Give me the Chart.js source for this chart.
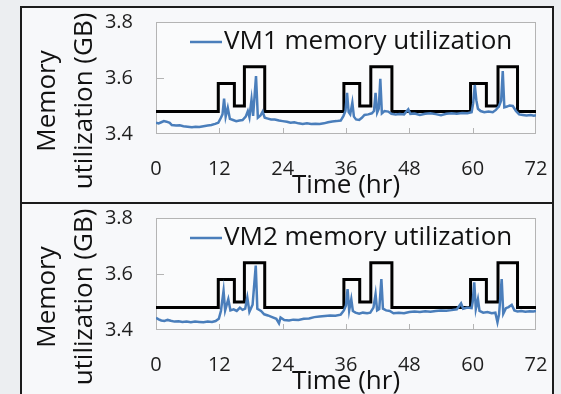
<!DOCTYPE html>
<html>
<head>
<meta charset="utf-8">
<script src="https://cdn.jsdelivr.net/npm/chart.js@4.4.0/dist/chart.umd.min.js"></script>
<style>
    html, body {
        margin: 0;
        padding: 0;
        width: 561px;
        height: 394px;
        overflow: hidden;
        background: #eceef1;
    }
    .frame {
        position: absolute;
        left: 20px;
        width: 534px;
        box-sizing: border-box;
        border: 2px solid #1b1b1b;
        background: #f7f8fa;
    }
    #frame1 { top: 6px; height: 198px; }
    #frame2 { top: 202px; height: 220px; }
    canvas {
        position: absolute;
        left: 21px;
    }
    #vm1Chart { top: 7px; }
    #vm2Chart { top: 203px; }
</style>
</head>
<body>
<div class="frame" id="frame1"></div>
<div class="frame" id="frame2"></div>
<canvas id="vm1Chart" width="532" height="196"></canvas>
<canvas id="vm2Chart" width="532" height="196"></canvas>
<script>
// memory allocation schedule (GB), each value holds until the next time
const stepTime = [0, 11.8, 14.85, 16.75, 20.6, 35.6, 38.6, 40.7, 44.7, 59.6, 62.6, 64.8, 68.5, 72];
const allocation = [3.48, 3.58, 3.5, 3.64, 3.48, 3.58, 3.5, 3.64, 3.48, 3.58, 3.5, 3.64, 3.48, 3.48];

// VM1 measured memory (hr, GB)
const vm1Time = [
    0, 0.5, 1.0, 1.5, 2.0, 2.6, 3.0, 3.8, 4.5, 5.2, 6.0, 6.8, 7.5, 8.2, 9.0, 9.8, 10.5, 11.2, 11.8,
    12.3, 12.6, 12.9, 13.2, 13.6, 14.0, 14.6, 15.2, 15.8, 16.4, 17.0, 17.4, 17.7, 18.1, 18.4, 18.95,
    19.3, 19.8, 20.2, 20.6, 21.2, 21.8, 22.5, 23.3, 24.0, 24.8, 25.5, 26.2, 27.0, 27.8, 28.6, 29.4,
    30.2, 31.0, 31.8, 32.6, 33.4, 34.2, 35.0, 35.5, 35.9, 36.2, 36.5, 36.8, 37.2, 37.5, 37.9, 38.5,
    39.0, 39.5, 40.2, 40.9, 41.3, 41.6, 41.9, 42.2, 42.5, 42.8, 43.3, 44.0, 44.6, 45.4, 46.2, 47.0,
    47.8, 48.2, 49.0, 50.0, 51.0, 52.0, 53.0, 54.0, 55.0, 56.0, 57.0, 58.0, 59.0, 59.8, 60.1, 60.4,
    60.7, 61.0, 61.5, 62.2, 63.0, 63.8, 64.4, 65.0, 65.4, 65.7, 66.0, 66.5, 67.0, 67.6, 68.2, 68.8,
    69.5, 70.2, 71.0, 71.6, 72.0
];
const vm1Mem = [
    3.440, 3.438, 3.442, 3.446, 3.444, 3.440, 3.432, 3.430, 3.431, 3.428, 3.426, 3.424, 3.426, 3.425, 3.428, 3.430, 3.432, 3.436, 3.440,
    3.458, 3.470, 3.526, 3.462, 3.494, 3.454, 3.450, 3.446, 3.448, 3.450, 3.462, 3.482, 3.460, 3.523, 3.465, 3.607,
    3.458, 3.466, 3.480, 3.458, 3.455, 3.452, 3.452, 3.448, 3.446, 3.444, 3.440, 3.442, 3.438, 3.436, 3.438, 3.436,
    3.437, 3.436, 3.438, 3.442, 3.445, 3.446, 3.448, 3.464, 3.482, 3.547, 3.478, 3.470, 3.512, 3.462, 3.452, 3.450,
    3.458, 3.468, 3.470, 3.474, 3.482, 3.547, 3.476, 3.490, 3.597, 3.474, 3.482, 3.480, 3.472, 3.470, 3.471, 3.470,
    3.488, 3.472, 3.473, 3.468, 3.472, 3.474, 3.471, 3.467, 3.472, 3.474, 3.472, 3.475, 3.474, 3.478, 3.510, 3.575,
    3.520, 3.490, 3.482, 3.478, 3.480, 3.478, 3.486, 3.500, 3.520, 3.625, 3.495, 3.498, 3.502, 3.500, 3.482, 3.470,
    3.468, 3.466, 3.468, 3.465, 3.467
];

// VM2 measured memory (hr, GB)
const vm2Time = [
    0, 0.5, 1.0, 1.6, 2.2, 2.8, 3.5, 4.3, 5.0, 5.8, 6.6, 7.4, 8.2, 9.0, 9.8, 10.6, 11.3, 11.9,
    12.3, 12.8, 13.1, 13.7, 14.1, 14.7, 15.3, 15.9, 16.4, 16.9, 17.3, 17.7, 18.3, 18.9, 19.2, 19.9,
    20.5, 21.2, 22.0, 22.8, 23.3, 23.6, 24.3, 25.2, 26.0, 27.0, 28.0, 29.0, 30.0, 31.0, 32.0, 33.0,
    34.0, 35.0, 35.6, 36.0, 36.3, 36.6, 37.0, 37.3, 37.8, 38.5, 39.2, 40.0, 40.6, 41.2, 41.6, 41.9,
    42.3, 42.7, 43.0, 43.6, 44.3, 45.0, 46.0, 47.0, 48.0, 49.0, 50.0, 51.0, 52.0, 53.0, 54.0, 55.0,
    56.0, 57.0, 57.8, 58.2, 59.0, 59.8, 60.0, 60.3, 60.6, 61.0, 61.3, 62.0, 62.8, 63.6, 64.3, 64.7,
    65.0, 65.5, 65.8, 66.3, 66.8, 67.4, 67.9, 68.5, 69.2, 70.0, 70.8, 71.5, 72.0
];
const vm2Mem = [
    3.444, 3.438, 3.434, 3.432, 3.436, 3.433, 3.430, 3.431, 3.429, 3.430, 3.428, 3.430, 3.429, 3.428, 3.430, 3.429, 3.432, 3.440,
    3.468, 3.540, 3.470, 3.510, 3.470, 3.474, 3.468, 3.480, 3.472, 3.476, 3.516, 3.465, 3.490, 3.630, 3.476, 3.468,
    3.456, 3.452, 3.446, 3.440, 3.424, 3.445, 3.436, 3.434, 3.437, 3.436, 3.440, 3.441, 3.446, 3.448, 3.450, 3.452,
    3.451, 3.455, 3.470, 3.488, 3.546, 3.470, 3.510, 3.468, 3.462, 3.458, 3.462, 3.460, 3.462, 3.480, 3.528, 3.470,
    3.475, 3.582, 3.476, 3.470, 3.468, 3.460, 3.462, 3.460, 3.464, 3.466, 3.464, 3.467, 3.465, 3.468, 3.470, 3.469,
    3.471, 3.474, 3.495, 3.476, 3.480, 3.478, 3.500, 3.570, 3.475, 3.510, 3.468, 3.462, 3.464, 3.460, 3.462, 3.428,
    3.456, 3.582, 3.458, 3.478, 3.482, 3.490, 3.470, 3.466, 3.468, 3.465, 3.467, 3.466, 3.468
];

const xTicks = [0, 12, 24, 36, 48, 60, 72];
const yTicks = [3.4, 3.6, 3.8];

Chart.defaults.font.family = "'Open Sans', sans-serif";
Chart.defaults.color = '#1e1e1e';

// plot box with inward ticks, the legend inside the plot and the two-line y title
const plotFrame = {
    id: 'plotFrame',
    beforeDraw: function (chart) {
        const ctx = chart.ctx;
        const a = chart.chartArea;
        const x = chart.scales.x;
        const y = chart.scales.y;
        ctx.save();
        ctx.fillStyle = '#fafbfc';
        ctx.fillRect(a.left, a.top, a.right - a.left, a.bottom - a.top);
        ctx.strokeStyle = '#b4b4b4';
        ctx.lineWidth = 1;
        ctx.strokeRect(Math.round(a.left) + 0.5, Math.round(a.top) + 0.5,
            Math.round(a.right - a.left) - 1, Math.round(a.bottom - a.top) - 1);
        ctx.beginPath();
        xTicks.slice(1, -1).forEach(function (t) {
            const px = Math.round(x.getPixelForValue(t)) + 0.5;
            ctx.moveTo(px, a.bottom);
            ctx.lineTo(px, a.bottom - 6);
        });
        yTicks.slice(1, -1).forEach(function (t) {
            const py = Math.round(y.getPixelForValue(t)) + 0.5;
            ctx.moveTo(a.left, py);
            ctx.lineTo(a.left + 8, py);
        });
        ctx.stroke();
        ctx.restore();
    },
    afterDatasetsDraw: function (chart) {
        const ctx = chart.ctx;
        const a = chart.chartArea;
        const ds = chart.data.datasets[0];
        const ly = a.top + 20;
        ctx.save();
        ctx.strokeStyle = ds.borderColor;
        ctx.lineWidth = 2.5;
        ctx.beginPath();
        ctx.moveTo(a.left + 34, ly);
        ctx.lineTo(a.left + 66, ly);
        ctx.stroke();
        ctx.fillStyle = '#111';
        ctx.font = "26px 'Open Sans'";
        ctx.textAlign = 'left';
        ctx.textBaseline = 'middle';
        ctx.fillText(ds.label, a.left + 68, ly);
        ctx.restore();
    },
    afterDraw: function (chart) {
        const ctx = chart.ctx;
        ctx.save();
        ctx.fillStyle = '#111';
        ctx.font = "26px 'Open Sans'";
        ctx.textAlign = 'center';
        ctx.textBaseline = 'alphabetic';
        [['Memory', 34], ['utilization (GB)', 71]].forEach(function (line) {
            ctx.save();
            ctx.translate(line[1], 94);
            ctx.rotate(-Math.PI / 2);
            ctx.fillText(line[0], 0, 0);
            ctx.restore();
        });
        ctx.restore();
    }
};

function makeChart(canvasId, times, mem, label) {
    return new Chart(document.getElementById(canvasId), {
        type: 'line',
        data: {
            datasets: [{
                label: label,
                data: times.map(function (t, i) { return { x: t, y: mem[i] }; }),
                borderColor: '#4a7ebb',
                backgroundColor: '#4a7ebb',
                borderWidth: 2.5,
                pointRadius: 0,
                tension: 0
            }, {
                label: 'allocation',
                data: stepTime.map(function (t, i) { return { x: t, y: allocation[i] }; }),
                borderColor: '#000000',
                backgroundColor: '#000000',
                borderWidth: 3,
                pointRadius: 0,
                stepped: 'before'
            }]
        },
        options: {
            responsive: false,
            animation: false,
            devicePixelRatio: 1,
            layout: {
                padding: { top: 15, right: 17, left: 0, bottom: 0 }
            },
            plugins: {
                legend: { display: false },
                tooltip: { enabled: false }
            },
            scales: {
                x: {
                    type: 'linear',
                    min: 0,
                    max: 72,
                    afterFit: function (scale) {
                        scale.height = 69;
                        scale.paddingLeft = 0;
                        scale.paddingRight = 0;
                    },
                    afterBuildTicks: function (scale) {
                        scale.ticks = xTicks.map(function (v) { return { value: v }; });
                    },
                    grid: { display: false, drawTicks: false },
                    border: { display: false },
                    ticks: {
                        padding: 23,
                        maxRotation: 0,
                        autoSkip: false,
                        font: { size: 20 }
                    },
                    title: {
                        display: true,
                        text: 'Time (hr)',
                        color: '#111',
                        font: { size: 26 },
                        padding: { top: 0, bottom: 2 }
                    }
                },
                y: {
                    min: 3.4,
                    max: 3.8,
                    afterFit: function (scale) {
                        scale.width = 135;
                        scale.paddingTop = 0;
                        scale.paddingBottom = 0;
                    },
                    afterBuildTicks: function (scale) {
                        scale.ticks = yTicks.map(function (v) { return { value: v }; });
                    },
                    grid: { display: false, drawTicks: false },
                    border: { display: false },
                    ticks: {
                        padding: 23,
                        font: { size: 20 },
                        callback: function (v) { return Number(v).toFixed(1); }
                    }
                }
            }
        },
        plugins: [plotFrame]
    });
}

const vm1Chart = makeChart('vm1Chart', vm1Time, vm1Mem, 'VM1 memory utilization');
const vm2Chart = makeChart('vm2Chart', vm2Time, vm2Mem, 'VM2 memory utilization');
</script>
</body>
</html>
